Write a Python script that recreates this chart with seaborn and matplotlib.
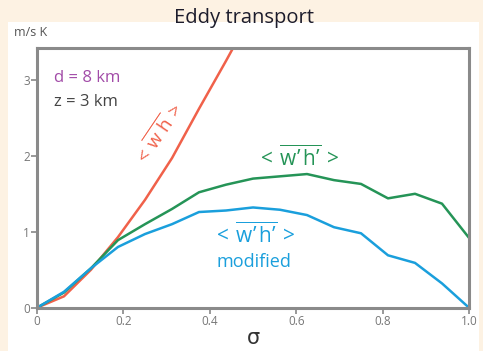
import numpy as np
import pandas as pd
import matplotlib
matplotlib.use("Agg")
import matplotlib.pyplot as plt
import seaborn as sns
from matplotlib.patches import Rectangle

# sigma sampled every 1/16
sigma = [0, 0.0625, 0.125, 0.1875, 0.25, 0.3125, 0.375, 0.4375, 0.5,
         0.5625, 0.625, 0.6875, 0.75, 0.8125, 0.875, 0.9375, 1.0]
wh_mean = [0, 0.15, 0.5, 0.93, 1.42, 1.97, 2.62, 3.25, 3.9,
           None, None, None, None, None, None, None, None]
wh_eddy = [0, 0.2, 0.52, 0.89, 1.1, 1.3, 1.52, 1.62, 1.7,
           1.73, 1.76, 1.68, 1.63, 1.44, 1.5, 1.37, 0.92]
wh_mod = [0, 0.21, 0.52, 0.8, 0.97, 1.1, 1.26, 1.28, 1.32,
          1.29, 1.22, 1.06, 0.98, 0.69, 0.59, 0.32, 0.0]

xticks = [0, 0.2, 0.4, 0.6, 0.8, 1.0]
xticklabels = ["0", "0.2", "0.4", "0.6", "0.8", "1.0"]
yticks = [0, 1, 2, 3]

RED = "#f0614a"
GREEN = "#259457"
BLUE = "#1a9fdc"

sns.set_style("white")
plt.rcParams["font.family"] = ["Open Sans", "DejaVu Sans"]
plt.rcParams["mathtext.fontset"] = "custom"
plt.rcParams["mathtext.rm"] = "Open Sans"
plt.rcParams["mathtext.it"] = "Open Sans"

fig = plt.figure(figsize=(4.83, 3.51), dpi=100)
fig.patch.set_facecolor("#fdf2e3")
fig.patches.append(Rectangle((8 / 483, 0), 471 / 483, 329 / 351,
                             transform=fig.transFigure, facecolor="white",
                             edgecolor="none", zorder=-5))
ax = fig.add_axes([37 / 483, 1 - 307.7 / 351, 432 / 483, 259.7 / 351])
ax.set_zorder(2)
ax.set_facecolor("white")

df = pd.DataFrame({"sigma": sigma, "mean": wh_mean,
                   "eddy": wh_eddy, "mod": wh_mod})
sns.lineplot(data=df, x="sigma", y="mean", color=RED, lw=1.8, ax=ax)
sns.lineplot(data=df, x="sigma", y="eddy", color=GREEN, lw=1.8, ax=ax)
sns.lineplot(data=df, x="sigma", y="mod", color=BLUE, lw=1.8, ax=ax)

ax.set_xlim(0, 1.0)
ax.set_ylim(0, 3.42)
ax.set_xticks(xticks)
ax.set_xticklabels(xticklabels)
ax.set_yticks(yticks)
ax.tick_params(axis="both", direction="out", length=4, width=1.2,
               color="#888888", labelcolor="#777777", labelsize=8.5,
               pad=1, bottom=True, left=True)
for s in ax.spines.values():
    s.set_color("#8a8a8a")
    s.set_linewidth(2.2)
ax.set_xlabel("σ", fontsize=15, color="#333333", labelpad=0,
              family="DejaVu Sans")
ax.set_ylabel("")

fig.text(244 / 483, 1 - 18 / 351, "Eddy transport", ha="center", va="center",
         fontsize=14.5, color="#1c1c2c", zorder=3)
fig.text(14 / 483, 1 - 32 / 351, "m/s K", ha="left", va="center",
         fontsize=9, color="#555555", zorder=3)

ax.text(0.04, 3.03, "d = 8 km", fontsize=12, color="#a24ca8", va="center")
ax.text(0.04, 2.71, "z = 3 km", fontsize=12, color="#444444", va="center")

ax.text(0.281, 2.28, r"$\mathrm{<}\,\overline{\mathrm{w\ h}}\,\mathrm{>}$",
        fontsize=13.5, color=RED, rotation=56, ha="center", va="center")
ax.text(0.604, 1.97, r"$\mathrm{<}\,\overline{\mathrm{w’\,h’}}\,\mathrm{>}$",
        fontsize=15, color=GREEN, ha="center", va="center")
ax.text(0.502, 0.96, r"$\mathrm{<}\,\overline{\mathrm{w’\,h’}}\,\mathrm{>}$",
        fontsize=15, color=BLUE, ha="center", va="center")
ax.text(0.502, 0.6, "modified", fontsize=13, color=BLUE,
        ha="center", va="center")

fig.savefig("out.png", dpi=100, facecolor=fig.get_facecolor())
